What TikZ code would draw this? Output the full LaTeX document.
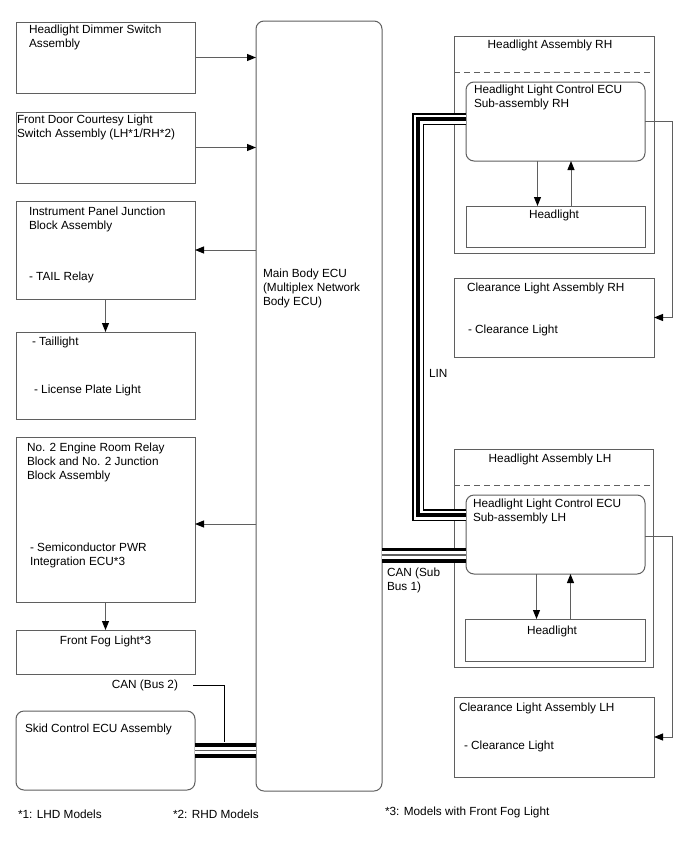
\documentclass[tikz,border=0pt]{standalone}
\usepackage{fontspec}
\setmainfont{Liberation Sans}
\usetikzlibrary{arrows.meta,calc}
\definecolor{bc}{RGB}{95,95,95}
\begin{document}
\begin{tikzpicture}[x=1bp,y=-1bp,
  box/.style={draw=bc, line width=1bp, inner sep=0pt, outer sep=0pt, anchor=north west},
  rbox/.style={box, rounded corners=8bp},
  arr/.style={draw=bc, line width=1bp, -{Triangle[length=9bp,width=7bp,color=black]}},
  wire/.style={draw=bc, line width=1bp},
  txt/.style={inner sep=0pt, outer sep=0pt, anchor=base west, align=left, font=\fontsize{11.8bp}{14bp}\selectfont},
  ctxt/.style={txt, anchor=base, align=center},
  busA/.style={draw=black, line width=15bp},
  busB/.style={draw=white, line width=7.5bp},
  busC/.style={draw=bc, line width=1.5bp},
  linA/.style={draw=black, line width=12.5bp},
  linB/.style={draw=white, line width=9bp},
  linC/.style={draw=black, line width=4bp}]
\fill[white] (0,0) rectangle (688,852);
\useasboundingbox (0,0) rectangle (688,852);

% left boxes
\node[box, minimum width=179bp, minimum height=71bp] (b1) at (16,22) {};
\node[box, minimum width=179bp, minimum height=71bp] (b2) at (16,112) {};
\node[box, minimum width=179bp, minimum height=98bp] (b3) at (16,201) {};
\node[box, minimum width=179bp, minimum height=87bp] (b4) at (16,332) {};
\node[box, minimum width=179bp, minimum height=165bp] (b5) at (16,437) {};
\node[box, minimum width=179bp, minimum height=44bp] (b6) at (16,630) {};
\node[rbox, minimum width=179bp, minimum height=79bp] (skid) at (16,711) {};
% main ECU
\node[rbox, minimum width=126bp, minimum height=770bp] (main) at (256,21) {};
% right side
\node[box, minimum width=200bp, minimum height=217bp] (hAR) at (454,36) {};
\node[rbox, minimum width=179bp, minimum height=79bp] (ecuR) at (466,82) {};
\node[box, minimum width=179bp, minimum height=41bp] (hlR) at (466,206) {};
\node[box, minimum width=200bp, minimum height=79bp] (clR) at (454,278) {};
\node[box, minimum width=199bp, minimum height=218bp] (hAL) at (454,449) {};
\node[rbox, minimum width=179bp, minimum height=79bp] (ecuL) at (466,495) {};
\node[box, minimum width=180bp, minimum height=42bp] (hlL) at (465,619) {};
\node[box, minimum width=200bp, minimum height=80bp] (clL) at (454,697) {};

% dashed separators
\draw[bc, line width=1bp, dash pattern=on 6bp off 4bp] ([yshift=-36bp]hAR.north west) -- ([yshift=-36bp]hAR.north east);
\draw[bc, line width=1bp, dash pattern=on 6bp off 4bp] ([yshift=-36bp]hAL.north west) -- ([yshift=-36bp]hAL.north east);

% texts (base anchor = baseline of last line)
\node[txt] (t1) at (29,47) {Headlight Dimmer Switch\\Assembly};
\node[txt] (t2) at (17,137) {Front Door Courtesy Light\\Switch Assembly (LH*1/RH*2)};
\node[txt] (t3a) at (29,229) {Instrument Panel Junction\\Block Assembly};
\node[txt] (t3b) at (29,280) {- TAIL Relay};
\node[txt] (t4a) at (32,345) {- Taillight};
\node[txt] (t4b) at (34,393) {- License Plate Light};
\node[txt] (t5a) at (27,479) {No. 2 Engine Room Relay\\Block and No. 2 Junction\\Block Assembly};
\node[txt] (t5b) at (30,565) {- Semiconductor PWR\\Integration ECU*3};
\node[ctxt] (t6) at (105.5,644) {Front Fog Light*3};
\node[txt, anchor=base east] (tcan2) at (178,688) {CAN (Bus 2)};
\node[txt] (tskid) at (25,732) {Skid Control ECU Assembly};
\node[txt] (tmain) at (263,305) {Main Body ECU\\(Multiplex Network\\Body ECU)};
\node[ctxt] (thAR) at (550,48) {Headlight Assembly RH};
\node[txt] (tecuR) at (474,107) {Headlight Light Control ECU\\Sub-assembly RH};
\node[ctxt] (thlR) at (554,218) {Headlight};
\node[txt] (tclRa) at (467,291) {Clearance Light Assembly RH};
\node[txt] (tclRb) at (468,333) {- Clearance Light};
\node[txt] (tlin) at (429,377) {LIN};
\node[ctxt] (thAL) at (550,462) {Headlight Assembly LH};
\node[txt] (tecuL) at (473,521) {Headlight Light Control ECU\\Sub-assembly LH};
\node[txt] (tcan1) at (387,590) {CAN (Sub\\Bus 1)};
\node[ctxt] (thlL) at (552,634) {Headlight};
\node[txt] (tclLa) at (459,711) {Clearance Light Assembly LH};
\node[txt] (tclLb) at (464,749) {- Clearance Light};
\node[txt] (fn1) at (18,818) {*1: LHD Models};
\node[txt] (fn2) at (173,818) {*2: RHD Models};
\node[txt] (fn3) at (385,815) {*3: Models with Front Fog Light};

% helper coordinates
\coordinate (y524) at (0,524);
\coordinate (y119) at (0,119);
\coordinate (y515) at (0,515);
\coordinate (y555) at (0,555);
\coordinate (xlin) at (418,0);
\coordinate (xr) at (672,0);
\coordinate (c2a) at (193,685);
\coordinate (c2b) at (224,742);

% arrows left column
\draw[arr] (b1.east) -- (b1.east -| main.west);
\draw[arr] (b2.east) -- (b2.east -| main.west);
\draw[arr] (b3.east -| main.west) -- (b3.east);
\draw[arr] (b3.south) -- (b4.north);
\draw[arr] (main.west |- y524) -- (b5.east |- y524);
\draw[arr] (b5.south) -- (b6.north);

% headlight arrows
\draw[arr] ([xshift=-18bp]ecuR.south) -- ([xshift=-18bp]ecuR.south |- hlR.north);
\draw[arr] ([xshift=15.5bp]ecuR.south |- hlR.north) -- ([xshift=15.5bp]ecuR.south);
\draw[arr] ([xshift=-19bp]ecuL.south) -- ([xshift=-19bp]ecuL.south |- hlL.north);
\draw[arr] ([xshift=15bp]ecuL.south |- hlL.north) -- ([xshift=15bp]ecuL.south);

% clearance connections
\draw[arr] (ecuR.east) -- (ecuR.east -| xr) |- (clR.east);
\draw[arr] ([yshift=-1.5bp]ecuL.east) -- ([yshift=-1.5bp]ecuL.east -| xr) |- (clL.east);

% LIN bus
\foreach \s in {linA,linB,linC}
  \draw[\s] (ecuR.west |- y119) -- (xlin |- y119) -- (xlin |- y515) -- (ecuL.west |- y515);

% CAN sub bus 1
\foreach \s in {busA,busB,busC}
  \draw[\s] (main.east |- y555) -- (ecuL.west |- y555);

% CAN bus 2
\foreach \s in {busA,busB,busC}
  \draw[\s] (skid.east) -- (skid.east -| main.west);
\draw[black, line width=1bp] (c2a) -| (c2b);
\end{tikzpicture}
\end{document}
